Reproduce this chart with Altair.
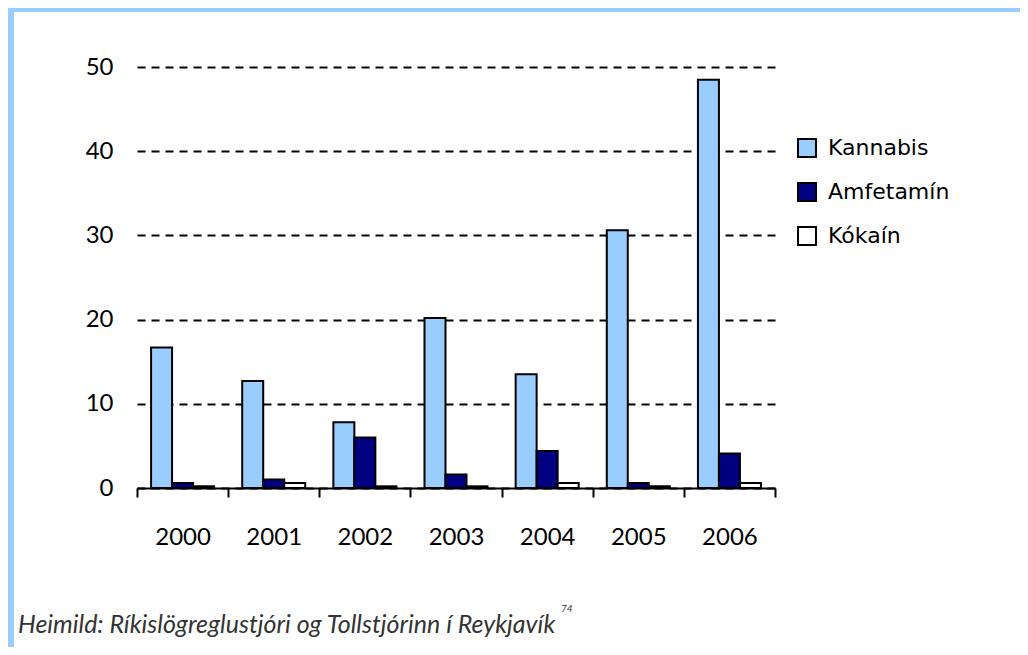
import altair as alt
import pandas as pd

years = ["2000", "2001", "2002", "2003", "2004", "2005", "2006"]
series = ["Kannabis", "Amfetamín", "Kókaín"]
kannabis = [16.7, 12.7, 7.8, 20.2, 13.5, 30.6, 48.5]
amfetamin = [0.6, 1.0, 6.0, 1.6, 4.4, 0.6, 4.1]
kokain = [0.2, 0.6, 0.2, 0.2, 0.6, 0.2, 0.6]
colors = ["#99CCFF", "#000080", "#FFFFFF"]
y_ticks = [0, 10, 20, 30, 40, 50]
source_text = "Heimild: Ríkislögreglustjóri og Tollstjórinn í Reykjavík"
footnote = "74"

rows = []
for name, vals in zip(series, [kannabis, amfetamin, kokain]):
    for yr, v in zip(years, vals):
        rows.append({"Ár": yr, "Efni": name, "Magn": v})
df = pd.DataFrame(rows)

W, H = 638, 421
PL, PT, PR, PB = 129, 59, 245, 159

bars = alt.Chart(df).mark_bar(stroke="black", strokeWidth=2).encode(
    x=alt.X("Ár:N", sort=years, title=None,
            scale=alt.Scale(paddingInner=0, paddingOuter=0),
            axis=alt.Axis(labelAngle=0, tickBand="extent", domainColor="black",
                          domainWidth=2, tickColor="black", tickWidth=2, tickSize=9,
                          labelFontSize=24, labelColor="black", labelPadding=28,
                          grid=False)),
    xOffset=alt.XOffset("Efni:N", sort=series,
                        scale=alt.Scale(paddingInner=0, paddingOuter=0.67)),
    y=alt.Y("Magn:Q", title=None,
            scale=alt.Scale(domain=[0, 50], nice=False),
            axis=alt.Axis(values=y_ticks, domain=False, ticks=False, labelFontSize=24,
                          labelColor="black", labelPadding=24, grid=True,
                          gridColor="black", gridDash=[8, 6], gridWidth=2,
                          gridOpacity=1)),
    color=alt.Color("Efni:N", sort=series,
                    scale=alt.Scale(domain=series, range=colors),
                    legend=alt.Legend(title=None, orient="none", legendX=659, legendY=70,
                                      symbolType="square", symbolSize=324,
                                      symbolStrokeColor="black", symbolStrokeWidth=2,
                                      symbolOpacity=1, labelFont="DejaVu Sans",
                                      labelFontSize=22, labelColor="black",
                                      labelOffset=10, rowPadding=18)),
)

txt_df = pd.DataFrame({"t": [source_text]})
source = alt.Chart(txt_df).mark_text(
    align="left", baseline="alphabetic", fontSize=25, fontStyle="italic",
    color="#333333", font="Lato"
).encode(text="t:N", x=alt.value(-119), y=alt.value(566))

fn_df = pd.DataFrame({"t": [footnote]})
foot = alt.Chart(fn_df).mark_text(
    align="left", baseline="alphabetic", fontSize=10, fontStyle="italic",
    color="#333333", font="Lato"
).encode(text="t:N", x=alt.value(424), y=alt.value(545))

band_df = pd.DataFrame({"b": ["top", "left"]})
top_band = alt.Chart(band_df).transform_filter("datum.b == 'top'").mark_rect(
    color="#99CCFF").encode(x=alt.value(-PL), x2=alt.value(W + PR),
                            y=alt.value(-PT), y2=alt.value(-PT + 4))
left_band = alt.Chart(band_df).transform_filter("datum.b == 'left'").mark_rect(
    color="#99CCFF").encode(x=alt.value(-PL), x2=alt.value(-PL + 6),
                            y=alt.value(-PT), y2=alt.value(H + PB))

chart = alt.layer(bars, source, foot, top_band, left_band).properties(
    width=W, height=H,
    autosize=alt.AutoSizeParams(type="none"),
    padding={"left": PL, "top": PT, "right": PR, "bottom": PB},
).configure(font="Lato").configure_view(stroke=None)

chart.save("out.html", embed_options={"renderer": "svg", "actions": False})
